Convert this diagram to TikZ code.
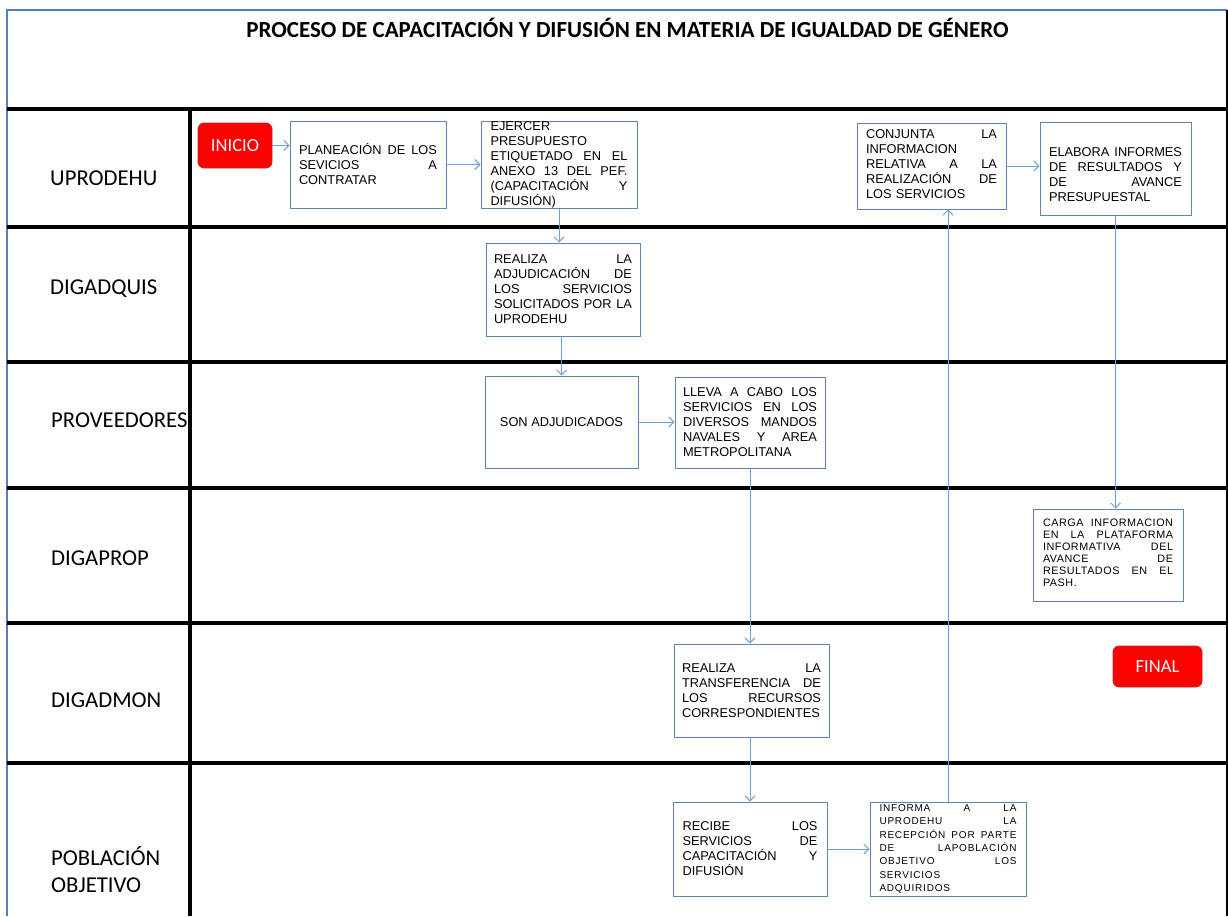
\documentclass[tikz,border=0pt]{standalone}
\usepackage{fontspec}
\newfontfamily\arialf{Liberation Sans}
\newfontfamily\arialsp[LetterSpace=8]{Liberation Sans}
\newfontfamily\arialspb[LetterSpace=5]{Liberation Sans}
\newfontfamily\calib{Carlito}
\usetikzlibrary{arrows.meta}
\definecolor{boxc}{RGB}{96,134,176}
\definecolor{arrc}{RGB}{112,160,210}
\definecolor{framec}{RGB}{79,129,189}
\definecolor{redfill}{RGB}{255,0,0}
\definecolor{redline}{RGB}{185,45,45}
\hbadness=10000
\newcommand{\J}[1]{\noindent\hbox to \hsize{\spaceskip=\fontdimen2\font plus 1fil\relax #1}}
\begin{document}
\begin{tikzpicture}[x=1pt,y=-1pt,
  laneline/.style={line width=4pt, black},
  procbox/.style={draw=boxc, line width=1pt, fill=white, inner sep=0pt},
  txt/.style={inner sep=0pt, align=left, font=\arialf\fontsize{12.8}{15}\selectfont},
  txtcarga/.style={inner sep=0pt, align=left, font=\arialspb\fontsize{10.8}{12}\selectfont},
  txtinf/.style={inner sep=0pt, align=left, font=\arialsp\fontsize{10}{13.4}\selectfont},
  term/.style={draw=redline, fill=redfill, rounded corners=6pt, line width=0.8pt, text=white, font=\calib\fontsize{18.5}{20}\selectfont, inner sep=0pt},
  lanelabel/.style={anchor=base west, font=\calib\fontsize{22.7}{27}\selectfont, inner sep=0pt, align=left},
  arr/.style={draw=arrc, line width=1pt, -{Straight Barb[length=5pt,width=10pt]}}
]
\useasboundingbox (0,0) rectangle (1228,916);
\fill[white] (0,0) rectangle (1228,916);
% frame
\draw[framec, line width=1.5pt] (7,916) -- (7,10) -- (1227,10);
\draw[black, line width=2pt] (1227,10) -- (1227,916);
% lanes
\foreach \yy in {109,227,362,488,623,763} {
  \draw[laneline] (7,\yy) -- (1228,\yy);
}
\draw[laneline] (190,109) -- (190,916);
% title
\node[anchor=base, inner sep=0pt, font=\calib\bfseries\fontsize{23}{25}\selectfont] (title) at (627.5,37) {PROCESO DE CAPACITACIÓN Y DIFUSIÓN EN MATERIA DE IGUALDAD DE GÉNERO};
% lane labels
\node[lanelabel] (l1) at (50,185) {UPRODEHU};
\node[lanelabel] (l2) at (50,294) {DIGADQUIS};
\node[lanelabel] (l3) at (51,427) {PROVEEDORES};
\node[lanelabel] (l4) at (51,565) {DIGAPROP};
\node[lanelabel] (l5) at (51,707) {DIGADMON};
\node[lanelabel] (l6) at (51,865) {POBLACIÓN};
\node[lanelabel] (l7) at (51,892) {OBJETIVO};
% terminals
\node[term, minimum width=74pt, minimum height=45pt] (inicio) at (235,145.5) {INICIO};
\node[term, minimum width=89pt, minimum height=41pt] (final) at (1157.5,666.5) {FINAL};
% boxes
\node[procbox, minimum width=156pt, minimum height=87pt] (plan) at (368,164.5) {};
\node[procbox, minimum width=156pt, minimum height=87pt] (ej) at (559,164.5) {};
\node[procbox, minimum width=154pt, minimum height=93pt] (adj) at (563,289.5) {};
\node[procbox, minimum width=153pt, minimum height=92pt] (son) at (561.5,422) {};
\node[procbox, minimum width=150pt, minimum height=91pt] (lleva) at (750,422.5) {};
\node[procbox, minimum width=155pt, minimum height=93pt] (trans) at (751.5,690.5) {};
\node[procbox, minimum width=154pt, minimum height=94pt] (rec) at (750,849) {};
\node[procbox, minimum width=156pt, minimum height=94pt] (inf) at (948,849) {};
\node[procbox, minimum width=149pt, minimum height=86pt] (conj) at (931.5,166) {};
\node[procbox, minimum width=151pt, minimum height=93pt] (elab) at (1115.5,168.5) {};
\node[procbox, minimum width=150pt, minimum height=92pt] (carga) at (1108,555) {};
% texts
\node[txt, text width=138pt] (plan-t) at (plan.center) {\J{PLANEACIÓN DE LOS}\\ \J{SEVICIOS A}\\ CONTRATAR};
\node[txt, text width=137pt] (ej-t) at (ej.center) {EJERCER\\ PRESUPUESTO\\ \J{ETIQUETADO EN EL}\\ \J{ANEXO 13 DEL PEF.}\\ \J{(CAPACITACIÓN Y}\\ DIFUSIÓN)};
\node[txt, text width=138pt] (adj-t) at (adj.center) {\J{REALIZA LA}\\ \J{ADJUDICACIÓN DE}\\ \J{LOS SERVICIOS}\\ \J{SOLICITADOS POR LA}\\ UPRODEHU};
\node[txt] (son-t) at (son.center) {SON ADJUDICADOS};
\node[txt, text width=134pt] (lleva-t) at (lleva.center) {\J{LLEVA A CABO LOS}\\ \J{SERVICIOS EN LOS}\\ \J{DIVERSOS MANDOS}\\ \J{NAVALES Y AREA}\\ METROPOLITANA};
\node[txt, text width=139pt] (trans-t) at (trans.center) {\J{REALIZA LA}\\ \J{TRANSFERENCIA DE}\\ \J{LOS RECURSOS}\\ CORRESPONDIENTES};
\node[txt, text width=135pt] (rec-t) at (rec.center) {\J{RECIBE LOS}\\ \J{SERVICIOS DE}\\ \J{CAPACITACIÓN Y}\\ DIFUSIÓN};
\node[txtinf, text width=137pt] (inf-t) at (inf.center) {\J{INFORMA A LA}\\ \J{UPRODEHU LA}\\ \J{RECEPCIÓN POR PARTE}\\ \J{DE LAPOBLACIÓN}\\ \J{OBJETIVO LOS}\\ SERVICIOS\\ ADQUIRIDOS};
\node[txt, text width=131pt, yshift=2pt] (conj-t) at (conj.center) {\J{CONJUNTA LA}\\ INFORMACION\\ \J{RELATIVA A LA}\\ \J{REALIZACIÓN DE}\\ LOS SERVICIOS};
\node[txt, text width=133pt, yshift=-6pt] (elab-t) at (elab.center) {\J{ELABORA INFORMES}\\ \J{DE RESULTADOS Y}\\ \J{DE AVANCE}\\ PRESUPUESTAL};
\node[txtcarga, text width=130pt, yshift=2pt] (carga-t) at (carga.center) {\J{CARGA INFORMACION}\\ \J{EN LA PLATAFORMA}\\ \J{INFORMATIVA DEL}\\ \J{AVANCE DE}\\ \J{RESULTADOS EN EL}\\ PASH.};
% connectors
\draw[arr] (inicio.east) -- (inicio.east -| plan.west);
\draw[arr] (plan.east) -- (ej.west);
\draw[arr] (ej.south) -- (ej.south |- adj.north);
\draw[arr] (son.north |- adj.south) -- (son.north);
\draw[arr] (son.east) -- (son.east -| lleva.west);
\draw[arr] (lleva.south) -- (lleva.south |- trans.north);
\draw[arr] (rec.north |- trans.south) -- (rec.north);
\draw[arr] (rec.east) -- (inf.west);
\draw[arr] (inf.north) -- (inf.north |- conj.south);
\draw[arr] (conj.east) -- (conj.east -| elab.west);
\draw[arr] (elab.south) -- (elab.south |- carga.north);
\end{tikzpicture}
\end{document}
